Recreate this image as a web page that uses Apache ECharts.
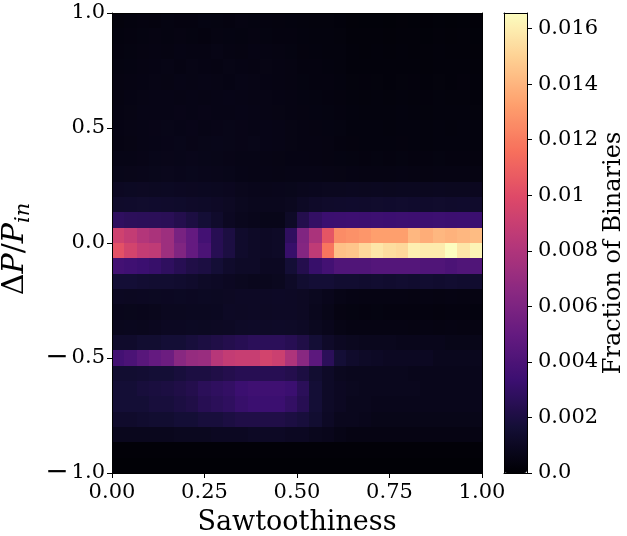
<!DOCTYPE html>
<html>
<head>
<meta charset="utf-8">
<title>Sawtoothiness vs ΔP/P_in</title>
<script src="https://cdn.jsdelivr.net/npm/echarts@6/dist/echarts.min.js"></script>
<style>
  html, body { margin: 0; padding: 0; background: #ffffff; }
  #chart { width: 627px; height: 536px; }
</style>
</head>
<body>
<div id="chart"></div>
<script>
// Axis ticks and their printed labels
const sawTicks = [0, 0.25, 0.5, 0.75, 1];
const sawTickLabels = ['0.00', '0.25', '0.50', '0.75', '1.00'];
const dpTicks = [-1, -0.5, 0, 0.5, 1];
const dpTickLabels = ['\u22121.0', '\u22120.5', '0.0', '0.5', '1.0'];
const cbTicks = [0, 0.002, 0.004, 0.006, 0.008, 0.01, 0.012, 0.014, 0.016];
const cbTickLabels = ['0.0', '0.002', '0.004', '0.006', '0.008', '0.01', '0.012', '0.014', '0.016'];

// Histogram binning: 30 sawtoothiness bins on [0, 1], 30 ΔP/P_in bins on [-1, 1]
const sawRange = [0, 1];
const dpRange = [-1, 1];
const sawBinCount = 30;
const dpBinCount = 30;

// Fraction of binaries per bin; rows run from ΔP/P_in = +1 (first) down to -1 (last),
// columns run from sawtoothiness 0 to 1.
const fraction = [
  [0.00030,0.00035,0.00041,0.00038,0.00044,0.00041,0.00039,0.00045,0.00042,0.00040,0.00046,0.00043,0.00040,0.00038,0.00036,0.00033,0.00030,0.00031,0.00028,0.00021,0.00019,0.00020,0.00018,0.00021,0.00019,0.00017,0.00020,0.00018,0.00019,0.00016],
  [0.00036,0.00040,0.00044,0.00046,0.00042,0.00047,0.00044,0.00041,0.00048,0.00045,0.00043,0.00047,0.00044,0.00041,0.00039,0.00035,0.00033,0.00032,0.00030,0.00024,0.00022,0.00023,0.00021,0.00024,0.00022,0.00020,0.00023,0.00021,0.00022,0.00019],
  [0.00040,0.00043,0.00046,0.00050,0.00048,0.00052,0.00049,0.00051,0.00055,0.00050,0.00048,0.00053,0.00049,0.00046,0.00043,0.00038,0.00036,0.00034,0.00032,0.00026,0.00024,0.00025,0.00023,0.00026,0.00024,0.00022,0.00025,0.00023,0.00024,0.00021],
  [0.00042,0.00045,0.00049,0.00052,0.00055,0.00051,0.00056,0.00053,0.00050,0.00057,0.00052,0.00049,0.00054,0.00050,0.00046,0.00041,0.00039,0.00037,0.00034,0.00028,0.00026,0.00027,0.00025,0.00028,0.00026,0.00024,0.00027,0.00025,0.00026,0.00023],
  [0.00046,0.00049,0.00053,0.00056,0.00054,0.00058,0.00055,0.00059,0.00056,0.00053,0.00058,0.00055,0.00052,0.00050,0.00047,0.00043,0.00041,0.00039,0.00036,0.00031,0.00029,0.00030,0.00028,0.00031,0.00029,0.00027,0.00030,0.00028,0.00029,0.00026],
  [0.00048,0.00052,0.00055,0.00058,0.00061,0.00057,0.00060,0.00056,0.00059,0.00062,0.00058,0.00055,0.00057,0.00053,0.00049,0.00045,0.00043,0.00041,0.00038,0.00033,0.00031,0.00032,0.00030,0.00033,0.00031,0.00029,0.00032,0.00030,0.00031,0.00028],
  [0.00050,0.00054,0.00058,0.00061,0.00059,0.00063,0.00060,0.00064,0.00061,0.00058,0.00062,0.00059,0.00056,0.00054,0.00051,0.00047,0.00045,0.00043,0.00040,0.00035,0.00033,0.00034,0.00032,0.00035,0.00033,0.00031,0.00034,0.00032,0.00033,0.00030],
  [0.00052,0.00056,0.00060,0.00063,0.00066,0.00062,0.00065,0.00061,0.00064,0.00067,0.00063,0.00060,0.00062,0.00058,0.00054,0.00050,0.00047,0.00045,0.00042,0.00037,0.00035,0.00036,0.00034,0.00037,0.00035,0.00033,0.00036,0.00034,0.00035,0.00032],
  [0.00050,0.00054,0.00058,0.00062,0.00065,0.00068,0.00064,0.00067,0.00070,0.00066,0.00063,0.00066,0.00062,0.00058,0.00054,0.00051,0.00049,0.00047,0.00040,0.00038,0.00036,0.00037,0.00035,0.00038,0.00036,0.00034,0.00037,0.00035,0.00036,0.00033],
  [0.00058,0.00061,0.00064,0.00068,0.00071,0.00069,0.00073,0.00070,0.00067,0.00064,0.00060,0.00058,0.00056,0.00054,0.00053,0.00052,0.00050,0.00048,0.00045,0.00043,0.00041,0.00042,0.00040,0.00043,0.00041,0.00039,0.00042,0.00040,0.00041,0.00038],
  [0.00068,0.00071,0.00074,0.00077,0.00079,0.00076,0.00078,0.00075,0.00072,0.00069,0.00062,0.00060,0.00058,0.00057,0.00058,0.00060,0.00058,0.00056,0.00054,0.00052,0.00050,0.00051,0.00049,0.00052,0.00050,0.00048,0.00051,0.00049,0.00050,0.00047],
  [0.00099,0.00102,0.00104,0.00101,0.00103,0.00100,0.00097,0.00095,0.00092,0.00088,0.00080,0.00076,0.00074,0.00075,0.00077,0.00082,0.00086,0.00089,0.00091,0.00092,0.00090,0.00093,0.00091,0.00094,0.00092,0.00090,0.00092,0.00089,0.00091,0.00088],
  [0.00130,0.00134,0.00137,0.00135,0.00132,0.00128,0.00124,0.00118,0.00112,0.00104,0.00090,0.00084,0.00082,0.00083,0.00091,0.00108,0.00124,0.00130,0.00133,0.00135,0.00134,0.00137,0.00135,0.00138,0.00136,0.00134,0.00137,0.00133,0.00135,0.00131],
  [0.00282,0.00268,0.00265,0.00262,0.00258,0.00232,0.00199,0.00166,0.00132,0.00099,0.00083,0.00075,0.00068,0.00070,0.00116,0.00232,0.00298,0.00331,0.00334,0.00338,0.00335,0.00340,0.00337,0.00341,0.00338,0.00336,0.00339,0.00334,0.00337,0.00333],
  [0.00927,0.00878,0.00811,0.00778,0.00729,0.00580,0.00497,0.00364,0.00248,0.00199,0.00132,0.00116,0.00108,0.00116,0.00282,0.00613,0.00778,0.01043,0.01259,0.01275,0.01292,0.01325,0.01325,0.01325,0.01408,0.01374,0.01408,0.01391,0.01408,0.01424],
  [0.01027,0.00944,0.00878,0.00861,0.00729,0.00613,0.00497,0.00397,0.00248,0.00199,0.00132,0.00116,0.00108,0.00116,0.00315,0.00629,0.00861,0.01176,0.01441,0.01457,0.01524,0.01573,0.01540,0.01524,0.01606,0.01590,0.01590,0.01656,0.01573,0.01623],
  [0.00364,0.00348,0.00331,0.00315,0.00282,0.00248,0.00215,0.00199,0.00166,0.00132,0.00116,0.00116,0.00099,0.00099,0.00166,0.00232,0.00315,0.00364,0.00414,0.00414,0.00414,0.00431,0.00431,0.00431,0.00431,0.00414,0.00414,0.00397,0.00414,0.00414],
  [0.00166,0.00166,0.00157,0.00149,0.00149,0.00141,0.00132,0.00116,0.00108,0.00099,0.00091,0.00083,0.00083,0.00091,0.00116,0.00149,0.00166,0.00166,0.00149,0.00149,0.00141,0.00149,0.00141,0.00149,0.00141,0.00149,0.00141,0.00149,0.00141,0.00141],
  [0.00099,0.00097,0.00099,0.00101,0.00099,0.00102,0.00100,0.00103,0.00101,0.00104,0.00108,0.00110,0.00108,0.00111,0.00108,0.00104,0.00091,0.00075,0.00058,0.00052,0.00050,0.00051,0.00049,0.00050,0.00048,0.00050,0.00047,0.00049,0.00048,0.00046],
  [0.00075,0.00077,0.00076,0.00080,0.00091,0.00090,0.00093,0.00092,0.00095,0.00108,0.00106,0.00109,0.00107,0.00110,0.00108,0.00104,0.00083,0.00066,0.00048,0.00043,0.00041,0.00042,0.00040,0.00041,0.00039,0.00041,0.00038,0.00040,0.00039,0.00037],
  [0.00083,0.00085,0.00084,0.00088,0.00099,0.00100,0.00102,0.00101,0.00104,0.00106,0.00116,0.00118,0.00117,0.00119,0.00116,0.00110,0.00091,0.00075,0.00056,0.00051,0.00050,0.00051,0.00049,0.00050,0.00048,0.00050,0.00047,0.00049,0.00048,0.00046],
  [0.00132,0.00132,0.00149,0.00149,0.00166,0.00166,0.00182,0.00199,0.00215,0.00232,0.00248,0.00265,0.00265,0.00265,0.00248,0.00215,0.00166,0.00124,0.00099,0.00091,0.00083,0.00083,0.00083,0.00075,0.00075,0.00075,0.00075,0.00066,0.00066,0.00066],
  [0.00364,0.00397,0.00447,0.00497,0.00530,0.00646,0.00696,0.00712,0.00828,0.00878,0.00894,0.00894,0.00944,0.00911,0.00795,0.00646,0.00464,0.00265,0.00166,0.00132,0.00116,0.00108,0.00099,0.00099,0.00099,0.00099,0.00083,0.00083,0.00083,0.00083],
  [0.00149,0.00149,0.00157,0.00166,0.00166,0.00182,0.00199,0.00199,0.00215,0.00232,0.00248,0.00248,0.00248,0.00248,0.00232,0.00199,0.00149,0.00116,0.00091,0.00083,0.00083,0.00083,0.00083,0.00083,0.00075,0.00075,0.00075,0.00075,0.00075,0.00075],
  [0.00166,0.00166,0.00182,0.00190,0.00199,0.00215,0.00232,0.00265,0.00282,0.00298,0.00331,0.00348,0.00348,0.00348,0.00331,0.00265,0.00166,0.00116,0.00099,0.00091,0.00083,0.00083,0.00083,0.00083,0.00083,0.00075,0.00075,0.00075,0.00075,0.00075],
  [0.00166,0.00166,0.00166,0.00182,0.00182,0.00199,0.00215,0.00248,0.00265,0.00282,0.00315,0.00331,0.00331,0.00331,0.00298,0.00248,0.00166,0.00116,0.00099,0.00083,0.00083,0.00075,0.00075,0.00075,0.00075,0.00075,0.00075,0.00075,0.00075,0.00075],
  [0.00132,0.00132,0.00141,0.00149,0.00149,0.00166,0.00166,0.00182,0.00182,0.00199,0.00215,0.00215,0.00215,0.00215,0.00199,0.00182,0.00149,0.00108,0.00083,0.00083,0.00075,0.00066,0.00066,0.00066,0.00066,0.00066,0.00066,0.00066,0.00066,0.00066],
  [0.00083,0.00083,0.00083,0.00083,0.00083,0.00091,0.00091,0.00091,0.00099,0.00099,0.00099,0.00108,0.00108,0.00108,0.00099,0.00099,0.00083,0.00075,0.00058,0.00050,0.00050,0.00050,0.00050,0.00050,0.00050,0.00050,0.00050,0.00050,0.00050,0.00050],
  [0.00013,0.00013,0.00013,0.00013,0.00013,0.00013,0.00013,0.00013,0.00013,0.00013,0.00013,0.00013,0.00013,0.00013,0.00013,0.00013,0.00013,0.00013,0.00013,0.00013,0.00013,0.00013,0.00013,0.00013,0.00013,0.00013,0.00013,0.00013,0.00013,0.00013],
  [0.00008,0.00008,0.00008,0.00008,0.00008,0.00008,0.00008,0.00008,0.00008,0.00008,0.00008,0.00008,0.00008,0.00008,0.00008,0.00008,0.00008,0.00008,0.00008,0.00008,0.00008,0.00008,0.00008,0.00008,0.00008,0.00008,0.00008,0.00008,0.00008,0.00008]
];

// matplotlib "magma" colormap stops
const magma = ['#000004', '#140e36', '#3b0f70', '#641a80', '#8c2981', '#b73779',
               '#de4968', '#f7705c', '#fe9f6d', '#fecf92', '#fcfdbf'];

const sawBinWidth = (sawRange[1] - sawRange[0]) / sawBinCount;
const dpBinHeight = (dpRange[1] - dpRange[0]) / dpBinCount;

// Each cell: [left edge, bottom edge, fraction]
const cells = [];
fraction.forEach(function (row, r) {
  const yBin = dpBinCount - 1 - r;
  row.forEach(function (v, c) {
    cells.push([sawRange[0] + c * sawBinWidth, dpRange[0] + yBin * dpBinHeight, v]);
  });
});
const fractionMax = Math.max.apply(null, fraction.map(function (row) { return Math.max.apply(null, row); }));

const FONT = 'DejaVu Serif';
const BLACK = '#000000';
const TICK_SIZE = 21;

function nearestIndex(ticks, value) {
  let best = 0;
  for (let i = 1; i < ticks.length; i++) {
    if (Math.abs(ticks[i] - value) < Math.abs(ticks[best] - value)) best = i;
  }
  return best;
}

function tickLabel(ticks, labels) {
  return function (value) {
    return labels[nearestIndex(ticks, value)];
  };
}

// Negative labels get a wide, math-style minus sign
function signedTickLabel(ticks, labels) {
  return function (value) {
    const text = labels[nearestIndex(ticks, value)];
    return text.charAt(0) === '\u2212' ? '{m|\u2212}' + text.slice(1) : text;
  };
}

function renderCell(params, api) {
  const x0 = api.value(0);
  const y0 = api.value(1);
  const a = api.coord([x0, y0]);
  const b = api.coord([x0 + sawBinWidth, y0 + dpBinHeight]);
  const left = Math.round(a[0]);
  const right = Math.round(b[0]);
  const top = Math.round(b[1]);
  const bottom = Math.round(a[1]);
  return {
    type: 'rect',
    shape: { x: left, y: top, width: right - left, height: bottom - top },
    style: { fill: api.visual('color') }
  };
}

const frameLine = { show: true, onZero: false, lineStyle: { color: BLACK, width: 1 } };
const plotBox = { left: 112, top: 13, width: 370, height: 460 };
const barBox = { left: 504, top: 13, width: 23, height: 460 };

const chart = echarts.init(document.getElementById('chart'), null, { renderer: 'canvas' });

chart.setOption({
  animation: false,
  backgroundColor: '#ffffff',
  grid: [
    Object.assign({ containLabel: false, outerBoundsMode: 'none' }, plotBox),
    Object.assign({ containLabel: false, outerBoundsMode: 'none' }, barBox)
  ],
  visualMap: {
    type: 'continuous',
    seriesIndex: 0,
    dimension: 2,
    min: 0,
    max: fractionMax,
    calculable: false,
    showLabel: false,
    hoverLink: false,
    orient: 'vertical',
    left: barBox.left,
    top: barBox.top,
    itemWidth: barBox.width,
    itemHeight: barBox.height,
    padding: 0,
    z: 3,
    inRange: { color: magma }
  },
  xAxis: [
    {
      gridIndex: 0, type: 'value', min: sawRange[0], max: sawRange[1], position: 'bottom', z: 10,
      axisLine: frameLine,
      axisTick: { show: true, inside: false, length: 5, customValues: sawTicks, lineStyle: { color: BLACK, width: 1 } },
      axisLabel: {
        show: true, customValues: sawTicks, formatter: tickLabel(sawTicks, sawTickLabels),
        fontFamily: FONT, fontSize: TICK_SIZE, color: BLACK, margin: 9
      },
      splitLine: { show: false },
      name: 'Sawtoothiness', nameLocation: 'middle', nameGap: 36,
      nameTextStyle: { fontFamily: FONT, fontSize: 27, color: BLACK }
    },
    {
      gridIndex: 0, type: 'value', min: sawRange[0], max: sawRange[1], position: 'top', z: 10,
      axisLine: frameLine, axisTick: { show: false }, axisLabel: { show: false }, splitLine: { show: false }
    },
    {
      gridIndex: 1, type: 'value', min: 0, max: 1, position: 'bottom', z: 10,
      axisLine: frameLine, axisTick: { show: false }, axisLabel: { show: false }, splitLine: { show: false }
    },
    {
      gridIndex: 1, type: 'value', min: 0, max: 1, position: 'top', z: 10,
      axisLine: frameLine, axisTick: { show: false }, axisLabel: { show: false }, splitLine: { show: false }
    }
  ],
  yAxis: [
    {
      gridIndex: 0, type: 'value', min: dpRange[0], max: dpRange[1], position: 'left', z: 10,
      axisLine: frameLine,
      axisTick: { show: true, inside: false, length: 5, customValues: dpTicks, lineStyle: { color: BLACK, width: 1 } },
      axisLabel: {
        show: true, customValues: dpTicks, formatter: signedTickLabel(dpTicks, dpTickLabels),
        fontFamily: FONT, fontSize: TICK_SIZE, color: BLACK, margin: 7,
        rich: { m: { fontFamily: FONT, fontSize: 28, color: BLACK, padding: [0, 3, 0, 0] } }
      },
      splitLine: { show: false },
      name: '{d|\u0394}{i|P}{d|/}{i|P}{s|in}',
      nameLocation: 'middle', nameRotate: 90, nameGap: 68,
      nameTextStyle: {
        fontFamily: FONT, fontSize: 30, color: BLACK,
        rich: {
          d: { fontFamily: FONT, fontSize: 30, color: BLACK },
          i: { fontFamily: FONT, fontSize: 30, fontStyle: 'italic', color: BLACK },
          s: { fontFamily: FONT, fontSize: 21, fontStyle: 'italic', color: BLACK, padding: [17, 12, 0, 0] }
        }
      }
    },
    {
      gridIndex: 0, type: 'value', min: dpRange[0], max: dpRange[1], position: 'right', z: 10,
      axisLine: frameLine, axisTick: { show: false }, axisLabel: { show: false }, splitLine: { show: false }
    },
    {
      gridIndex: 1, type: 'value', min: 0, max: fractionMax, position: 'right', z: 10,
      axisLine: frameLine,
      axisTick: { show: true, inside: false, length: 5, customValues: cbTicks, lineStyle: { color: BLACK, width: 1 } },
      axisLabel: {
        show: true, customValues: cbTicks, formatter: tickLabel(cbTicks, cbTickLabels),
        fontFamily: FONT, fontSize: TICK_SIZE, color: BLACK, margin: 11
      },
      splitLine: { show: false },
      name: 'Fraction of Binaries', nameLocation: 'middle', nameRotate: 90, nameGap: 72,
      nameTextStyle: { fontFamily: FONT, fontSize: 24, color: BLACK, padding: [0, 20, 0, 0] }
    },
    {
      gridIndex: 1, type: 'value', min: 0, max: fractionMax, position: 'left', z: 10,
      axisLine: frameLine, axisTick: { show: false }, axisLabel: { show: false }, splitLine: { show: false }
    }
  ],
  series: [
    {
      type: 'custom',
      name: 'Fraction of Binaries',
      coordinateSystem: 'cartesian2d',
      xAxisIndex: 0,
      yAxisIndex: 0,
      silent: true,
      renderItem: renderCell,
      encode: { x: 0, y: 1 },
      data: cells
    }
  ]
});
</script>
</body>
</html>
